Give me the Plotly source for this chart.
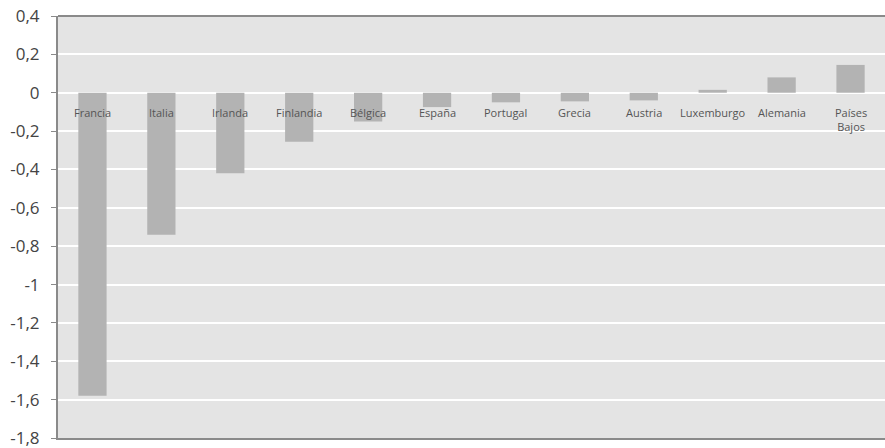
import plotly.graph_objects as go

countries = ["Francia", "Italia", "Irlanda", "Finlandia", "Bélgica", "España",
             "Portugal", "Grecia", "Austria", "Luxemburgo", "Alemania", "Países Bajos"]
labels = ["Francia", "Italia", "Irlanda", "Finlandia", "Bélgica", "España",
          "Portugal", "Grecia", "Austria", "Luxemburgo", "Alemania", "Países<br>Bajos"]
values = [-1.58, -0.74, -0.42, -0.255, -0.15, -0.075, -0.05, -0.045, -0.04, 0.015, 0.08, 0.145]

tick_vals = [0.4, 0.2, 0, -0.2, -0.4, -0.6, -0.8, -1.0, -1.2, -1.4, -1.6, -1.8]
tick_text = ["0,4", "0,2", "0", "-0,2", "-0,4", "-0,6", "-0,8", "-1", "-1,2", "-1,4", "-1,6", "-1,8"]

fig = go.Figure()
fig.add_trace(go.Bar(x=countries, y=values, marker_color="#b3b3b3",
                     marker_line_width=0, width=0.41))

for c, lab in zip(countries, labels):
    fig.add_annotation(x=c, y=0, text=lab, showarrow=False, yanchor="top",
                       yshift=-10, font=dict(family="Open Sans", size=11, color="#555555"))

fig.add_shape(type="line", xref="paper", yref="paper", x0=0, x1=1, y0=1, y1=1,
              line=dict(color="#8a8a8a", width=2))
fig.add_shape(type="line", xref="paper", yref="y", x0=0, x1=1, y0=0, y1=0,
              line=dict(color="#c8c8c8", width=1, dash="dot"), layer="below")

fig.update_layout(
    width=885, height=448,
    margin=dict(l=58, r=0, t=16, b=10, autoexpand=False),
    paper_bgcolor="white", plot_bgcolor="#e4e4e4",
    showlegend=False,
    font=dict(family="Open Sans", color="#444444"),
)
fig.update_xaxes(showticklabels=False, showgrid=False, showline=True,
                 linecolor="#8a8a8a", linewidth=2, ticks="", zeroline=False,
                 range=[-0.5, 11.5])
fig.update_yaxes(range=[-1.8, 0.4], tickvals=tick_vals, ticktext=tick_text,
                 showgrid=True, gridcolor="white", gridwidth=2, zeroline=False,
                 showline=True, linecolor="#8a8a8a", linewidth=2,
                 ticks="outside", ticklen=5, tickcolor="#8a8a8a",
                 ticklabelstandoff=8, ticklabeloverflow="allow", automargin=False,
                 tickfont=dict(family="Open Sans", size=17, color="#444444"))

fig.write_html("out.html")
